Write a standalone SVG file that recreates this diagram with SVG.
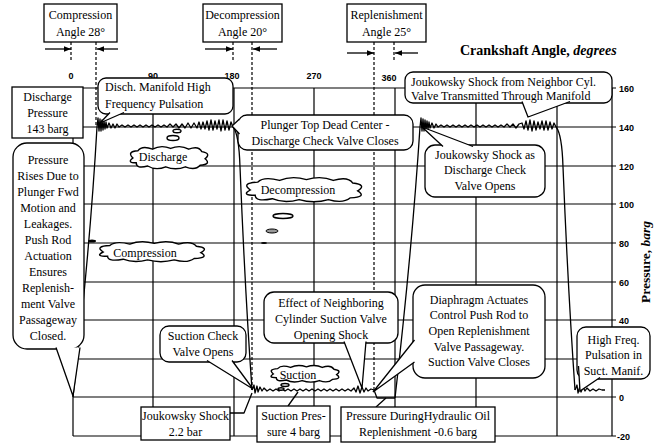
<svg xmlns="http://www.w3.org/2000/svg" width="656" height="443" viewBox="0 0 656 443">
<style>
.gl{stroke:#000;stroke-width:1.2;fill:none}
.cv{stroke:#000;stroke-width:1.3;fill:none;stroke-linejoin:round}
.bx{fill:#fff;stroke:#000;stroke-width:1.3}
.tl{fill:#fff;stroke:#000;stroke-width:1.3;stroke-linejoin:miter}
.dl{stroke:#000;stroke-width:1.2;stroke-dasharray:3,2;fill:none}
.ar{stroke:#000;stroke-width:1.3;fill:none;marker-end:url(#ah)}
text{font-family:"Liberation Serif",serif;font-size:12px;fill:#000}
.c{text-anchor:middle}
.n{font-family:"Liberation Sans",sans-serif;font-size:9px;font-weight:bold}
.cl{fill:#fff;stroke:#000;stroke-width:1.4}
</style>
<defs>
<marker id="ah" viewBox="0 0 10 10" refX="10" refY="5" markerUnits="userSpaceOnUse" markerWidth="8" markerHeight="7" orient="auto"><path d="M0,1 L10,5 L0,9 z" fill="#000"/></marker>
<path id="cloud" d="M-44,0 Q-52,-8 -38,-9 Q-33,-16 -20,-11 Q-10,-17 2,-12 Q14,-17 24,-11 Q36,-16 40,-8 Q52,-6 44,1 Q52,8 38,9 Q32,16 20,11 Q8,16 -4,11 Q-16,16 -26,10 Q-40,14 -40,6 Q-52,6 -44,0 Z" vector-effect="non-scaling-stroke"/>
</defs>
<rect width="656" height="443" fill="#fff"/>

<g id="grid">
<path class="gl" d="M73,88H616M73,127H616M73,166H616M73,204H616M73,243H616M73,282H616M73,320H616M73,359H616M73,397H616M73,436H616"/>
<path class="gl" d="M73,88V436M153,88V436M234,88V436M314,88V436M395,88V436M476,88V436M557,88V436M612,88V436"/>
</g>

<g id="axis-labels">
<text class="n c" x="71" y="79">0</text>
<text class="n c" x="153" y="79">90</text>
<text class="n c" x="232" y="79">180</text>
<text class="n c" x="314" y="79">270</text>
<text class="n c" x="389" y="81">360</text>
<text class="n" x="619" y="92">160</text>
<text class="n" x="619" y="131">140</text>
<text class="n" x="619" y="170">120</text>
<text class="n" x="619" y="208">100</text>
<text class="n" x="619" y="247">80</text>
<text class="n" x="619" y="286">60</text>
<text class="n" x="619" y="324">40</text>
<text class="n" x="619" y="401">0</text>
<text class="n" x="617" y="440">-20</text>
<text x="460" y="55" style="font-size:14px;font-weight:bold">Crankshaft Angle, <tspan style="font-style:italic">degrees</tspan></text>
<text class="c" transform="translate(650,262) rotate(-90)" style="font-size:13.5px;font-weight:bold">Pressure, <tspan style="font-style:italic">barg</tspan></text>
</g>

<g id="angle-markers">
<path class="dl" d="M71,42V60M96,42V127M233,42V62M252,42V390M374,42V390M394,42V62"/>
<path class="ar" d="M45,49H71"/>
<path class="ar" d="M118,49H97"/>
<path class="ar" d="M205,49H233"/>
<path class="ar" d="M277,49H253"/>
<path class="ar" d="M347,53H374"/>
<path class="ar" d="M418,53H395"/>
</g>

<g id="curve">
<path class="cv" d="M73,397 Q90,250 97,127"/>
<polyline class="cv" points="97,127 98,118 99,131 100,119 101,131 102,120 103,130 104,121 105,129 106,122 107,128 109,123 111,128 113,124 115,128 117,124 119,127 122,125 125,127 128,125 131,127 134,125 137,127 140,125 143,127 146,125 149,127 152,125 155,127 158,125 161,127 164,125 167,127 170,124 173,127 176,124 179,128 182,124 185,128 188,123 191,128 194,123 197,128 199,122 201,129 203,122 205,129 207,121 209,130 211,120 213,130 215,121 217,129 219,120 221,131 223,120 225,130 227,121 229,130 231,122 233,127"/>
<path class="cv" d="M233,127 Q239,134 240,167 Q245,290 252,390"/>
<polyline class="cv" points="252,390 254,385 255,393 257,386 258,392 260,387 262,391 264,388 267,391 270,389 273,391 276,389 279,391 282,389 285,391 288,389 291,391 294,389 297,391 300,389 303,391 306,389 309,391 312,389 315,391 318,389 321,391 324,389 327,391 330,389 333,391 336,389 339,391 342,389 345,391 348,389 351,391 354,388 356,392 358,386 360,393 362,387 364,392 366,388 368,391 371,389 374,390 377,398 395,398"/>
<path class="cv" d="M395,398 Q412,250 420,127"/>
<polyline class="cv" points="420,127 421,118 422,131 423,119 424,131 425,120 426,130 427,121 428,129 429,122 430,128 432,123 434,128 436,124 438,127 441,125 444,127 447,125 450,127 453,125 456,127 459,125 462,127 465,125 468,127 471,125 474,127 477,125 480,127 483,125 486,127 489,125 492,127 495,125 498,127 501,125 504,127 507,124 510,127 513,124 516,128 519,124 522,123 524,129 526,121 528,130 530,120 532,131 534,121 536,130 538,122 540,129 542,121 544,130 546,121 548,130 550,122 552,129 554,123 556,127"/>
<path class="cv" d="M556,127 Q562,134 563,167 Q568,290 575,390"/>
<polyline class="cv" points="575,390 577,385 578,393 580,386 581,392 583,387 585,391 587,388 590,391 593,389 596,391 599,389 602,390 605,390"/>
</g>

<g id="connectors">
<polyline class="cv" points="230,413 244,413 252,393"/>
<polyline class="cv" points="288,406 298,392"/>
<polyline class="cv" points="376,407 386,398"/>
</g>

<g id="cloud-discharge">
<ellipse class="cl" cx="177" cy="131" rx="4" ry="1.8"/>
<ellipse class="cl" cx="173" cy="138" rx="6" ry="2.5"/>
<use href="#cloud" class="cl" transform="translate(169,158) scale(0.82,0.8)"/>
<text class="c" x="163" y="161">Discharge</text>
</g>
<g id="cloud-decompression">
<use href="#cloud" class="cl" transform="translate(304,190) scale(1.22,0.87)"/>
<text class="c" x="298" y="194">Decompression</text>
<ellipse class="cl" cx="283" cy="216" rx="10" ry="2.5"/>
<ellipse cx="272" cy="231" rx="6" ry="2" fill="#999" stroke="#000" stroke-width="1"/>
<ellipse cx="264" cy="243" rx="3" ry="1" fill="#000"/>
</g>
<g id="cloud-compression">
<ellipse cx="92" cy="241" rx="4" ry="1.5" fill="#000"/>
<use href="#cloud" class="cl" transform="translate(152,252) scale(1.11,0.72)"/>
<text class="c" x="145" y="257">Compression</text>
</g>
<g id="cloud-suction">
<ellipse class="cl" cx="285" cy="385" rx="4" ry="1.5"/>
<ellipse class="cl" cx="281" cy="389" rx="3" ry="1.2"/>
<use href="#cloud" class="cl" transform="translate(305,374) scale(0.72,0.6)"/>
<text class="c" x="298" y="379">Suction</text>
</g>

<g id="box-compression-angle">
<rect class="bx" x="44" y="4" width="73" height="38"/>
<text class="c" x="80.5" y="19">Compression</text>
<text class="c" x="80.5" y="36">Angle 28°</text>
</g>
<g id="box-decompression-angle">
<rect class="bx" x="203" y="4" width="79" height="38"/>
<text class="c" x="242.5" y="19">Decompression</text>
<text class="c" x="242.5" y="36">Angle 20°</text>
</g>
<g id="box-replenishment-angle">
<rect class="bx" x="347" y="4" width="79" height="38"/>
<text class="c" x="386.5" y="19">Replenishment</text>
<text class="c" x="386.5" y="36">Angle 25°</text>
</g>

<g id="box-discharge-pressure">
<rect class="bx" x="12" y="87" width="71" height="51"/>
<text class="c" x="47.5" y="101">Discharge</text>
<text class="c" x="47.5" y="117">Pressure</text>
<text class="c" x="47.5" y="133">143 barg</text>
</g>

<g id="callout-disch-manifold">
<rect class="bx" x="98" y="78" width="135" height="36" rx="8"/>
<path class="tl" d="M110,112.5 L100,123 L124,112.5"/>
<text x="105" y="91">Disch. Manifold High</text>
<text x="105" y="108">Frequency Pulsation</text>
</g>

<g id="callout-plunger-tdc">
<rect class="bx" x="238" y="115" width="175" height="35" rx="9"/>
<path class="tl" d="M239.5,119 L232,126 L239.5,134"/>
<text class="c" x="325" y="129">Plunger Top Dead Center -</text>
<text class="c" x="325" y="145">Discharge Check Valve Closes</text>
</g>

<g id="callout-joukowsky-neighbor">
<rect class="bx" x="405" y="72" width="207" height="31" rx="8"/>
<path class="tl" d="M522,101.5 L528,117 L570,101.5"/>
<text x="411" y="86">Joukowsky Shock from Neighbor Cyl.</text>
<text x="411" y="99.5">Valve Transmitted Through Manifold</text>
</g>

<g id="callout-joukowsky-discharge">
<rect class="bx" x="425" y="145" width="120" height="52" rx="10"/>
<path class="tl" d="M443,146.5 L422,127 L473,146.5"/>
<text class="c" x="485" y="159">Joukowsky Shock as</text>
<text class="c" x="485" y="174">Discharge Check</text>
<text class="c" x="485" y="190">Valve Opens</text>
</g>

<g id="callout-pressure-rises">
<rect class="bx" x="13" y="143" width="71" height="206" rx="14"/>
<path class="tl" d="M56,347.5 L73,396 L80,347.5"/>
<text class="c" x="48" y="164">Pressure</text>
<text class="c" x="48" y="180">Rises Due to</text>
<text class="c" x="48" y="196">Plunger Fwd</text>
<text class="c" x="48" y="212">Motion and</text>
<text class="c" x="48" y="228">Leakages.</text>
<text class="c" x="48" y="244">Push Rod</text>
<text class="c" x="48" y="260">Actuation</text>
<text class="c" x="48" y="276">Ensures</text>
<text class="c" x="48" y="292">Replenish-</text>
<text class="c" x="48" y="308">ment Valve</text>
<text class="c" x="48" y="324">Passageway</text>
<text class="c" x="48" y="340">Closed.</text>
</g>

<g id="callout-suction-check">
<rect class="bx" x="160" y="326" width="86" height="36" rx="9"/>
<path class="tl" d="M207,360.5 L253,389 L232,360.5"/>
<text class="c" x="203" y="340">Suction Check</text>
<text class="c" x="203" y="356">Valve Opens</text>
</g>

<g id="callout-neighbor-suction">
<rect class="bx" x="264" y="292" width="134" height="51" rx="10"/>
<path class="tl" d="M344,341.5 L362,388 L366,341.5"/>
<text class="c" x="331" y="307">Effect of Neighboring</text>
<text class="c" x="331" y="323">Cylinder Suction Valve</text>
<text class="c" x="331" y="339">Opening Shock</text>
</g>

<g id="callout-diaphragm">
<rect class="bx" x="413" y="285" width="132" height="93" rx="12"/>
<path class="tl" d="M414.5,340 L373,392 L414.5,362"/>
<text class="c" x="479" y="304">Diaphragm Actuates</text>
<text class="c" x="479" y="319">Control Push Rod to</text>
<text class="c" x="479" y="335">Open Replenishment</text>
<text class="c" x="479" y="351">Valve Passageway.</text>
<text class="c" x="479" y="366">Suction Valve Closes</text>
</g>

<g id="callout-high-freq">
<rect class="bx" x="577" y="327" width="73" height="52" rx="9"/>
<path class="tl" d="M578.5,366 L580,391 L600,377.5"/>
<text class="c" x="613.5" y="344">High Freq.</text>
<text class="c" x="613.5" y="359">Pulsation in</text>
<text class="c" x="613.5" y="375">Suct. Manif.</text>
</g>

<g id="box-joukowsky-2-2">
<rect class="bx" x="141" y="407" width="89" height="33"/>
<text class="c" x="185.5" y="420">Joukowsky Shock</text>
<text class="c" x="185.5" y="436">2.2 bar</text>
</g>
<g id="box-suction-pressure">
<rect class="bx" x="257" y="406" width="73" height="36"/>
<text class="c" x="293.5" y="420">Suction Pres-</text>
<text class="c" x="293.5" y="436">sure 4 barg</text>
</g>
<g id="box-replenishment-pressure">
<rect class="bx" x="341" y="407" width="154" height="35"/>
<text class="c" x="418" y="420">Pressure DuringHydraulic Oil</text>
<text class="c" x="418" y="436">Replenishment -0.6 barg</text>
</g>
</svg>
